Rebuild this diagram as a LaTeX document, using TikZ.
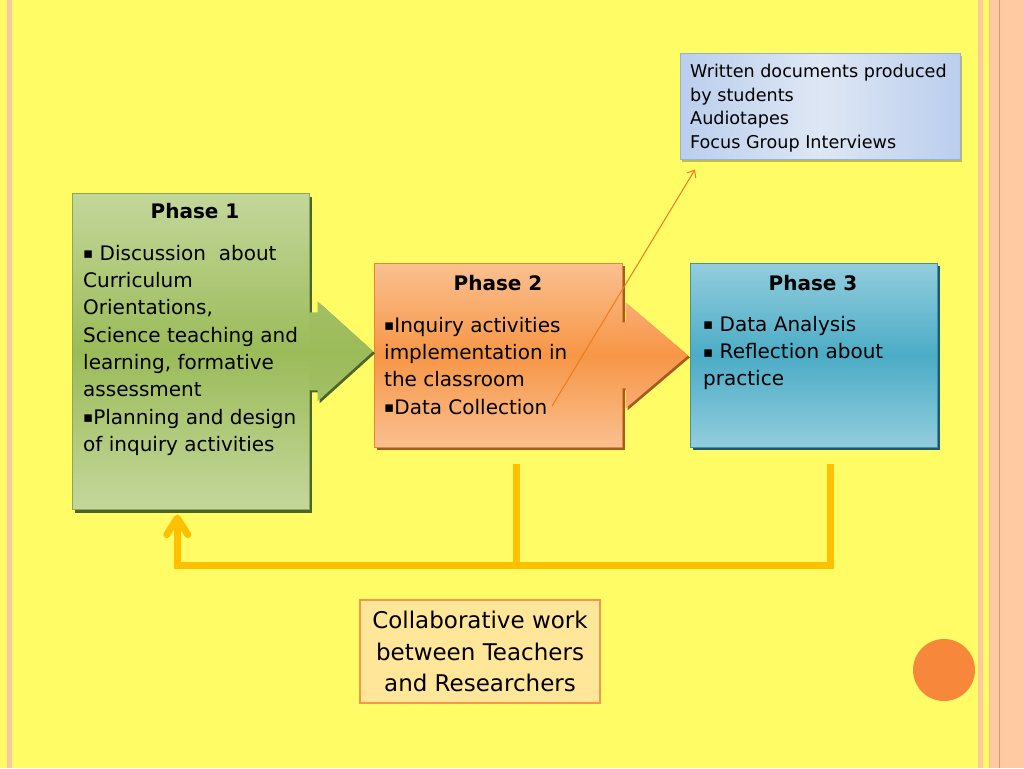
\documentclass[tikz,border=0pt]{standalone}
\usepackage{fontspec}
\setmainfont{DejaVu Sans}
\usetikzlibrary{calc,shadows,arrows.meta}
\definecolor{bg}{HTML}{FFFC66}
\definecolor{stripe}{HTML}{FBC8A0}
\definecolor{peach}{HTML}{FFC9A2}
\definecolor{peachline}{HTML}{E8946A}
\definecolor{gA}{HTML}{C4D79B}
\definecolor{gB}{HTML}{9BBB59}
\definecolor{gC}{HTML}{4F6228}
\definecolor{gArr}{HTML}{A3C066}
\definecolor{oA}{HTML}{FAC090}
\definecolor{oB}{HTML}{F79646}
\definecolor{oC}{HTML}{A65A1C}
\definecolor{oArr}{HTML}{F9AC74}
\definecolor{bA}{HTML}{93CDDD}
\definecolor{bB}{HTML}{4BACC6}
\definecolor{bC}{HTML}{215968}
\definecolor{tA}{HTML}{BACEEE}
\definecolor{tB}{HTML}{DEE7F4}
\definecolor{tBorder}{HTML}{95B3D7}
\definecolor{gold}{HTML}{FFC000}
\definecolor{thinor}{HTML}{EC7A1E}
\definecolor{cwfill}{HTML}{FFE699}
\definecolor{dotc}{HTML}{F7883B}
\newcommand\sqbul{\raisebox{1.5pt}{\fontsize{15}{15}\selectfont ▪}}
\begin{document}
\begin{tikzpicture}[x=1pt,y=-1pt,
  phasebox/.style={inner sep=0, anchor=north west, line width=0.6pt},
  ptext/.style={font=\fontsize{20}{27.3}\selectfont, align=left, anchor=north west, inner sep=0},
  ptitle/.style={font=\bfseries\fontsize{20}{24}\selectfont, anchor=base, inner sep=0},
  ttext/.style={font=\fontsize{17.6}{23.6}\selectfont, align=left, anchor=north west, inner sep=0},
  goldline/.style={draw=gold, line width=7pt},
  thinarrow/.style={draw=thinor, line width=1pt, -{Straight Barb[length=6pt,width=10pt]}}
]
\useasboundingbox (0,0) rectangle (1024,768);
\fill[bg] (0,0) rectangle (1024,768);
% page decoration
\fill[stripe] (7,0) rectangle (12,768);
\fill[stripe] (978,0) rectangle (983,768);
\fill[peach] (989,0) rectangle (1024,768);
\draw[peachline, line width=0.8pt] (999,0) -- (999,768);
\draw[stripe!80!peachline, line width=0.6pt] (989.3,0) -- (989.3,768);
\node[circle, fill=dotc, minimum size=62pt, inner sep=0] (dot) at (944,670) {};

% boxes
\node[phasebox, minimum width=237pt, minimum height=316pt,
  top color=gA, bottom color=gA, middle color=gB, draw=gB!90!black,
  drop shadow={shadow xshift=3pt, shadow yshift=-4pt, fill=gC, opacity=1}] (p1) at (72,193) {};
\node[phasebox, minimum width=248pt, minimum height=184pt,
  top color=oA, bottom color=oA, middle color=oB, draw=oB!90!black,
  drop shadow={shadow xshift=3pt, shadow yshift=-3pt, fill=oC, opacity=1}] (p2) at (374,263) {};
\node[phasebox, minimum width=247pt, minimum height=184pt,
  top color=bA, bottom color=bA, middle color=bB, draw=bB!85!black,
  drop shadow={shadow xshift=3pt, shadow yshift=-3pt, fill=bC, opacity=1}] (p3) at (690,263) {};
\node[phasebox, minimum width=280pt, minimum height=106pt,
  left color=tA, right color=tA, middle color=tB, draw=tBorder,
  drop shadow={shadow xshift=2pt, shadow yshift=-3pt, fill=black, opacity=0.25}] (tb) at (680,53) {};

% block arrows
\path[top color=gArr, bottom color=gArr, middle color=gB,
  drop shadow={shadow xshift=2pt, shadow yshift=-2pt, fill=gC, opacity=1}]
  ($(p1.east)+(0,-39)$) -- ++(8,0) -- ++(0,-11) -- ($(p2.west |- p1.east)+(-1,0)$)
  -- ($(p1.east)+(8,50)$) -- ++(0,-11) -- ($(p1.east)+(0,39)$) -- cycle;
\path[top color=oArr, bottom color=oArr, middle color=oB,
  drop shadow={shadow xshift=2pt, shadow yshift=-2pt, fill=oC, opacity=1}]
  ($(p2.east)+(0,-33)$) -- ++(3,0) -- ++(0,-20) -- ($(p3.west)+(-2,0)$)
  -- ($(p2.east)+(3,53)$) -- ++(0,-20) -- ($(p2.east)+(0,33)$) -- cycle;

% texts
\node[ptitle] (p1t) at (195,218) {Phase 1};
\node[ptext] (p1b) at (83,240.9) {\strut\sqbul{} Discussion~ about\\Curriculum\\Orientations,\\Science teaching and\\learning, formative\\assessment\\\sqbul Planning and design\\of inquiry activities};
\node[ptitle] (p2t) at (498,290) {Phase 2};
\node[ptext] (p2b) at (384,312.9) {\strut\sqbul Inquiry activities\\implementation in\\the classroom\\\sqbul Data Collection};
\node[ptitle] (p3t) at (813,290) {Phase 3};
\node[ptext] (p3b) at (703,311.9) {\strut\sqbul{} Data Analysis\\\sqbul{} Reflection about\\practice};
\node[ttext] (tbt) at (690,60.9) {\strut Written documents produced\\by students\\Audiotapes\\Focus Group Interviews};

% collaborative box
\node[draw=oB, line width=2pt, fill=cwfill, minimum width=240pt, minimum height=103pt,
  align=center, inner sep=0, font=\fontsize{23}{31.5}\selectfont] (cw) at (480,651.5)
  {Collaborative work\\between Teachers\\and Researchers};

% gold feedback connectors
\coordinate (d2) at ($(p2.south)+(18,16)$);
\coordinate (d3) at ($(p3.south)+(16.5,16)$);
\coordinate (busR) at ($(d3)+(0,102)$);
\coordinate (p1in) at ($(p1.south)+(-13.5,8.5)$);
\draw[goldline] (d2) -- (d2 |- busR);
\draw[goldline] (d3) -- (busR) -| (p1in);
\draw[goldline, line cap=round, line join=round]
  ($(p1in)+(-10.5,16.5)$) -- (p1in) -- ($(p1in)+(10.5,16.5)$);

% thin arrow to data sources
\coordinate (dc) at (552,406);
\draw[thinarrow] (dc) -- ($(tb.south west)+(15,10)$);
\end{tikzpicture}
\end{document}
